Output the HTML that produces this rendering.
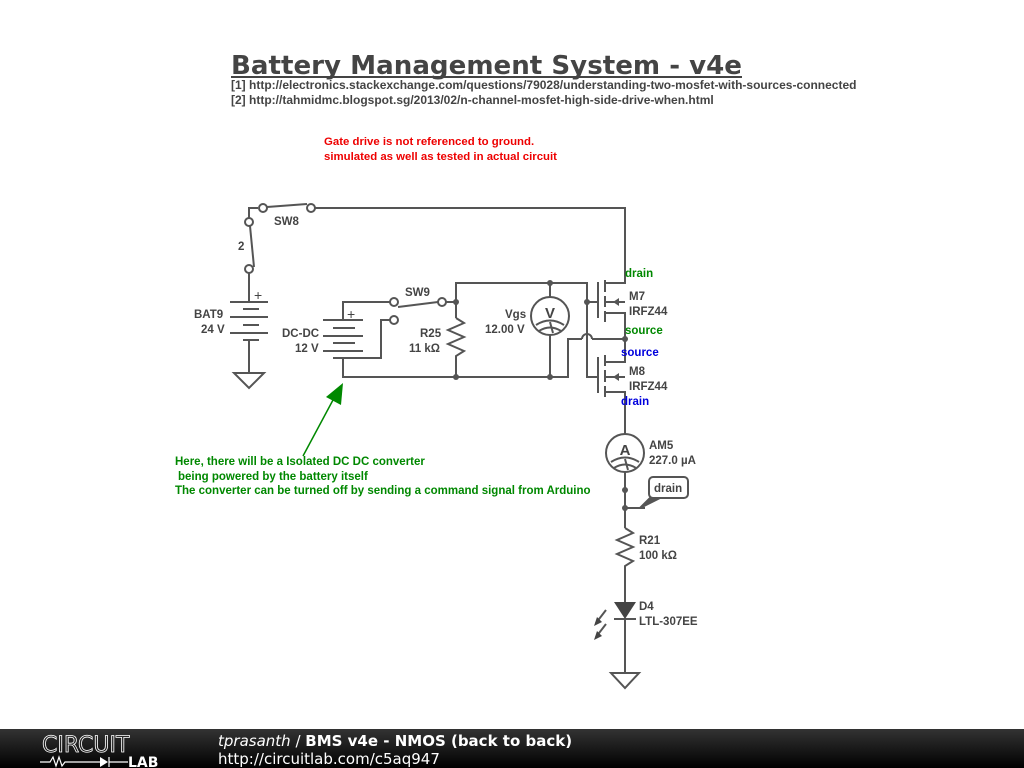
<!DOCTYPE html>
<html><head><meta charset="utf-8"><style>
body{margin:0;width:1024px;height:768px;background:#fff;overflow:hidden;font-family:"Liberation Sans",sans-serif}
svg{position:absolute;left:0;top:0}
</style></head><body>
<svg width="1024" height="768" viewBox="0 0 1024 768" font-family="Liberation Sans, sans-serif">
<rect width="1024" height="768" fill="#fff"/>
<text x="231" y="74" font-family="DejaVu Sans, sans-serif" font-weight="bold" font-size="26" fill="#444" textLength="511" lengthAdjust="spacingAndGlyphs">Battery Management System - v4e</text>
<line x1="231" y1="77" x2="742" y2="77" stroke="#444" stroke-width="2"/>
<g font-size="12" font-weight="bold" fill="#444">
<text x="231" y="89">[1] http://electronics.stackexchange.com/questions/79028/understanding-two-mosfet-with-sources-connected</text>
<text x="231" y="104">[2] http://tahmidmc.blogspot.sg/2013/02/n-channel-mosfet-high-side-drive-when.html</text>
</g>
<g font-size="11.4" font-weight="bold" fill="#e00">
<text x="324" y="145">Gate drive is not referenced to ground.</text>
<text x="324" y="160">simulated as well as tested in actual circuit</text>
</g>
<g stroke="#555" stroke-width="2" fill="none">
<polyline points="311,208 625,208 625,283 605,283"/>
<polyline points="249,220 249,208 258,208"/>
<line x1="267" y1="207" x2="307" y2="204"/>
<line x1="250" y1="226" x2="254" y2="267"/>
<line x1="249" y1="273" x2="249" y2="302"/>
<line x1="230" y1="302" x2="268" y2="302"/><line x1="243" y1="309" x2="259" y2="309"/>
<line x1="230" y1="317" x2="268" y2="317"/><line x1="243" y1="325" x2="259" y2="325"/>
<line x1="230" y1="333" x2="268" y2="333"/><line x1="243" y1="340" x2="259" y2="340"/>
<line x1="249" y1="340" x2="249" y2="373"/>
<polygon points="234,373 264,373 249,388"/>
<line x1="323" y1="320" x2="363" y2="320"/><line x1="333" y1="328" x2="355" y2="328"/>
<line x1="323" y1="336" x2="363" y2="336"/><line x1="333" y1="343" x2="355" y2="343"/>
<line x1="323" y1="351" x2="363" y2="351"/><line x1="333" y1="358" x2="355" y2="358"/>
<polyline points="343,320 343,302 390,302"/>
<polyline points="390,320 381,320 381,358 355,358"/>
<polyline points="343,358 343,377 568,377 568,339 582,339"/>
<path d="M582,339 A5,5 0 0 1 592,339"/>
<line x1="592" y1="339" x2="625" y2="339"/>
<line x1="398" y1="307" x2="438" y2="302"/>
<line x1="446" y1="302" x2="456" y2="302"/>
<polyline points="456,302 456,283 587,283 587,377 598,377"/>
<line x1="587" y1="302" x2="598" y2="302"/>
<line x1="456" y1="302" x2="456" y2="318"/>
<polyline points="456,318 464,323 448,330 464,337 448,344 464,351 456,356 456,377"/>
<line x1="550" y1="283" x2="550" y2="297"/><line x1="550" y1="335" x2="550" y2="377"/>
<circle cx="550" cy="316" r="19"/>
<path d="M536,325 Q550,316 564,325"/><path d="M539,331 Q550,324 561,331"/><line x1="550" y1="322" x2="553" y2="333"/>
<line x1="598" y1="282" x2="598" y2="318"/>
<line x1="605" y1="280" x2="605" y2="292"/><line x1="605" y1="296" x2="605" y2="307"/><line x1="605" y1="311" x2="605" y2="322"/>
<polyline points="605,313 625,313 625,339"/>
<line x1="605" y1="302" x2="625" y2="302"/>
<line x1="598" y1="357" x2="598" y2="393"/>
<line x1="605" y1="355" x2="605" y2="366"/><line x1="605" y1="370" x2="605" y2="382"/><line x1="605" y1="386" x2="605" y2="397"/>
<polyline points="625,339 625,362 605,362"/>
<line x1="605" y1="377" x2="625" y2="377"/>
<polyline points="605,392 625,392 625,434"/>
<circle cx="625" cy="453" r="19"/>
<path d="M611,462 Q625,453 639,462"/><path d="M614,468 Q625,461 636,468"/><line x1="625" y1="459" x2="628" y2="470"/>
<line x1="625" y1="472" x2="625" y2="528"/>
<polyline points="625,508 645,508"/>
<polyline points="625,528 633,533 617,540 633,547 617,554 633,561 625,566 625,602"/>
<line x1="614" y1="619" x2="636" y2="619"/>
<line x1="625" y1="619" x2="625" y2="673"/>
<polygon points="611,673 639,673 625,688"/>
<line x1="596" y1="623" x2="606" y2="610"/><line x1="596" y1="637" x2="606" y2="624"/>
<rect x="649" y="477" width="39" height="21" rx="4"/>
</g>
<polygon points="640,508 660,498 650,498" fill="#555" stroke="#555" stroke-width="2"/>
<polygon points="613,302 619,298 619,306" fill="#555"/>
<polygon points="613,377 619,373 619,381" fill="#555"/>
<polygon points="614,602 636,602 625,619" fill="#444"/>
<polygon points="594,626 597,617 602,622" fill="#444"/><polygon points="594,640 597,631 602,636" fill="#444"/>
<g fill="#fff" stroke="#555" stroke-width="2">
<circle cx="263" cy="208" r="4"/><circle cx="311" cy="208" r="4"/><circle cx="249" cy="222" r="4"/><circle cx="249" cy="269" r="4"/>
<circle cx="394" cy="302" r="4"/><circle cx="442" cy="302" r="4"/><circle cx="394" cy="320" r="4"/>
</g>
<g fill="#555"><circle cx="456" cy="302" r="3"/><circle cx="456" cy="377" r="3"/><circle cx="550" cy="283" r="3"/><circle cx="550" cy="377" r="3"/><circle cx="587" cy="302" r="3"/><circle cx="625" cy="339" r="3"/><circle cx="625" cy="490" r="3"/><circle cx="625" cy="508" r="3"/></g>
<g font-size="11.5" font-weight="bold" fill="#444">
<text x="274" y="225">SW8</text><text x="238" y="250">2</text>
<text x="194" y="318">BAT9</text><text x="201" y="333">24 V</text>
<text x="254" y="300" font-weight="normal" font-size="14">+</text>
<text x="347" y="319" font-weight="normal" font-size="14">+</text>
<text x="282" y="337">DC-DC</text><text x="295" y="352">12 V</text>
<text x="405" y="296">SW9</text>
<text x="420" y="337">R25</text><text x="409" y="352">11 kΩ</text>
<text x="505" y="318">Vgs</text><text x="485" y="333">12.00 V</text>
<text x="550" y="318" font-size="15" text-anchor="middle">V</text>
<text x="625" y="455" font-size="15" text-anchor="middle">A</text>
<text x="629" y="300">M7</text><text x="629" y="315">IRFZ44</text>
<text x="629" y="375">M8</text><text x="629" y="390">IRFZ44</text>
<text x="649" y="449">AM5</text><text x="649" y="464">227.0 µA</text>
<text x="654" y="492">drain</text>
<text x="639" y="544">R21</text><text x="639" y="559">100 kΩ</text>
<text x="639" y="610">D4</text><text x="639" y="625">LTL-307EE</text>
</g>
<g font-size="11.5" font-weight="bold">
<text x="625" y="277" fill="#080">drain</text><text x="625" y="334" fill="#080">source</text>
<text x="621" y="356" fill="#00d">source</text><text x="621" y="405" fill="#00d">drain</text>
</g>
<line x1="303" y1="456" x2="333" y2="400" stroke="#080" stroke-width="1.5"/>
<polygon points="343,383 326,397 341,405" fill="#080"/>
<g font-size="11.5" font-weight="bold" fill="#080">
<text x="175" y="465">Here, there will be a Isolated DC DC converter</text>
<text x="178" y="480">being powered by the battery itself</text>
<text x="175" y="494">The converter can be turned off by sending a command signal from Arduino</text>
</g>
<defs><linearGradient id="g" x1="0" y1="0" x2="0" y2="1"><stop offset="0" stop-color="#333"/><stop offset="1" stop-color="#000"/></linearGradient></defs>
<rect x="0" y="729" width="1024" height="39" fill="url(#g)"/>
<text x="42" y="752" font-family="DejaVu Sans, sans-serif" font-size="22" fill="none" stroke="#fff" stroke-width="0.8">CIRCUIT</text>
<g stroke="#fff" stroke-width="1.2" fill="none"><polyline points="40,762 50,762 53,757 56,766 59,757 62,766 65,762 100,762"/><line x1="109" y1="757" x2="109" y2="767"/><line x1="109" y1="762" x2="128" y2="762"/></g>
<polygon points="100,757 100,767 108,762" fill="#fff"/>
<text x="128" y="767" font-family="DejaVu Sans, sans-serif" font-weight="bold" font-size="14" fill="#fff">LAB</text>
<text x="218" y="746" font-family="DejaVu Sans, sans-serif" font-size="15" fill="#fff"><tspan font-style="italic">tprasanth</tspan> / <tspan font-weight="bold">BMS v4e - NMOS (back to back)</tspan></text>
<text x="218" y="764" font-family="DejaVu Sans, sans-serif" font-size="15" fill="#fff">http://circuitlab.com/c5aq947</text>
</svg>
</body></html>
